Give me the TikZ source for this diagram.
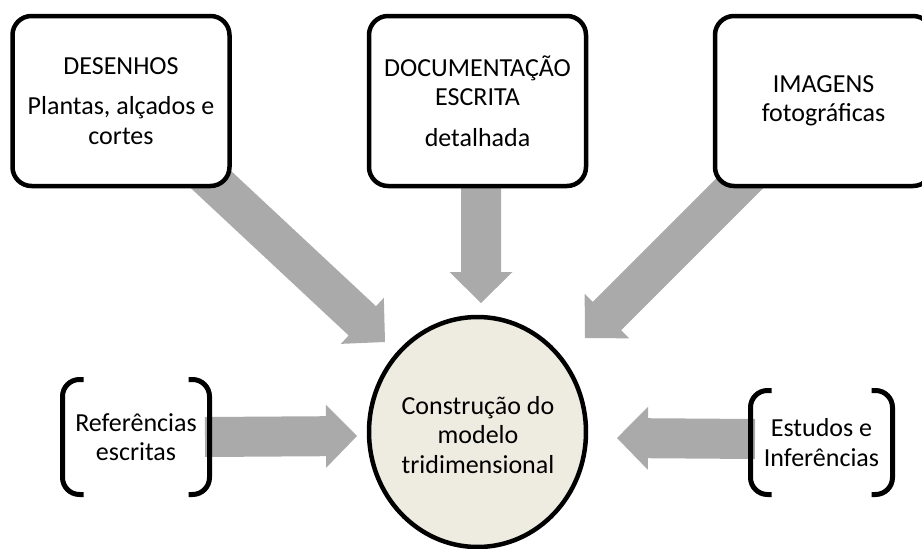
\documentclass[tikz,border=0pt]{standalone}
\usepackage{fontspec}
\setmainfont{Carlito}
\usetikzlibrary{calc,shapes.geometric}
\definecolor{arrowgray}{RGB}{170,170,170}
\definecolor{circfill}{RGB}{238,236,225}
\newcommand{\fatarrow}[2]{%
  \coordinate (fa-h) at ($(#2)!31pt!(#1)$);
  \fill[arrowgray] ($(#1)!20pt!90:(#2)$) -- ($(fa-h)!20pt!-90:(#1)$) -- ($(fa-h)!31.5pt!-90:(#1)$) -- (#2)
    -- ($(fa-h)!31.5pt!90:(#1)$) -- ($(fa-h)!20pt!90:(#1)$) -- ($(#1)!20pt!-90:(#2)$) -- cycle;}
\tikzset{
  txt/.style={font=\fontsize{26}{29.5}\selectfont, align=center, inner sep=0pt, outer sep=0pt},
  srcbox/.style={txt, draw=black, line width=4.5pt, fill=white, rounded corners=19pt,
    minimum width=217pt, minimum height=170pt},
  center/.style={txt, ellipse, draw=black, line width=4.5pt, fill=circfill,
    minimum width=217pt, minimum height=230pt},
  brk/.style={txt, rectangle},
  brkline/.style={line width=5pt, rounded corners=17pt},
}
\begin{document}
\begin{tikzpicture}[x=1pt,y=-1pt]
\useasboundingbox (0,0) rectangle (922,549);
\clip (0,0) rectangle (922,549);
% arrow end points
\coordinate (d1s) at (190,160);
\coordinate (d1e) at (385,342);
\coordinate (mds) at (481,170);
\coordinate (mde) at (481,303);
\coordinate (d3s) at (760,163);
\coordinate (d3e) at (585,338);
\coordinate (lfs) at (205,437);
\coordinate (lfe) at (357,436);
\coordinate (rts) at (755,439);
\coordinate (rte) at (617,438);
\fatarrow{d1s}{d1e}
\fatarrow{mds}{mde}
\fatarrow{d3s}{d3e}
\fatarrow{lfs}{lfe}
\fatarrow{rts}{rte}
% boxes
\node[srcbox] (desenhos) at (121,101) {DESENHOS\\[11pt]Plantas, alçados e\\cortes};
\node[srcbox] (doc) at (477.5,101) {DOCUMENTAÇÃO\\ESCRITA\\[11pt]detalhada};
\node[srcbox] (imagens) at (823.5,101) {IMAGENS\\fotográficas};
\node[center] (modelo) at (477.5,432) {};
\node[txt] (modelotxt) at (478,435) {Construção do\\modelo\\tridimensional};
\node[brk, minimum width=147pt, minimum height=115pt] (refs) at (136,437) {Referências\\escritas};
\node[brk, minimum width=142pt, minimum height=104pt] (estudos) at (821.5,442.5) {Estudos e\\Inferências};
% brackets
\draw[brkline] ([xshift=21pt]refs.north west) -- (refs.north west) -- (refs.south west) -- ([xshift=21pt]refs.south west);
\draw[brkline] ([xshift=-21pt]refs.north east) -- (refs.north east) -- (refs.south east) -- ([xshift=-21pt]refs.south east);
\draw[brkline] ([xshift=21pt]estudos.north west) -- (estudos.north west) -- (estudos.south west) -- ([xshift=21pt]estudos.south west);
\draw[brkline] ([xshift=-21pt]estudos.north east) -- (estudos.north east) -- (estudos.south east) -- ([xshift=-21pt]estudos.south east);
\end{tikzpicture}
\end{document}
